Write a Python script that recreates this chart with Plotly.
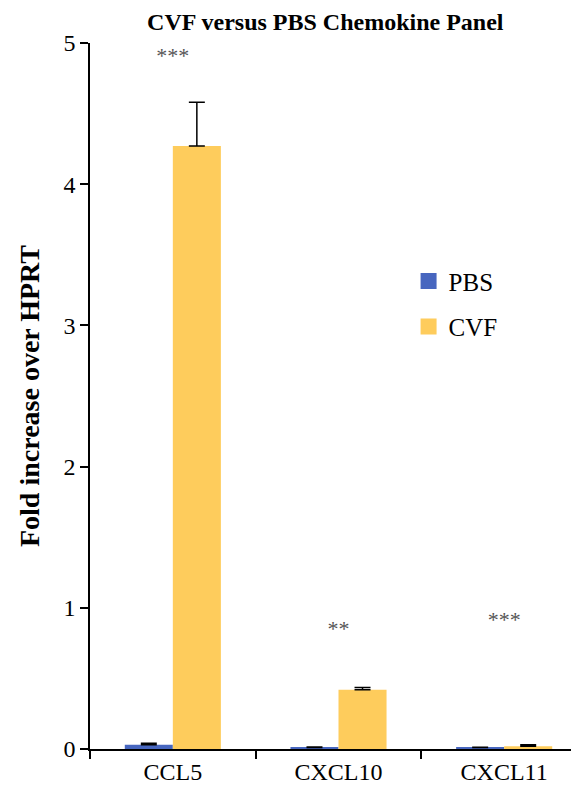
import plotly.graph_objects as go

categories = ["CCL5", "CXCL10", "CXCL11"]
pbs_values = [0.03, 0.01, 0.01]
pbs_errors = [0.01, 0.005, 0.003]
cvf_values = [4.27, 0.42, 0.02]
cvf_errors = [0.31, 0.015, 0.01]
star_labels = ["***", "**", "***"]
star_heights = [4.9, 0.84, 0.9]

FONT = "Liberation Serif, Times New Roman, serif"
PBS_COLOR = "#4766BF"
CVF_COLOR = "#FECC5C"

fig = go.Figure()
fig.add_trace(go.Bar(
    x=categories, y=pbs_values, name="PBS", showlegend=False,
    marker=dict(color=PBS_COLOR, line=dict(width=0)),
    error_y=dict(type="data", array=pbs_errors, arrayminus=[0]*3, symmetric=False,
                 color="black", thickness=1.5, width=8),
))
fig.add_trace(go.Bar(
    x=categories, y=cvf_values, name="CVF", showlegend=False,
    marker=dict(color=CVF_COLOR, line=dict(width=0)),
    error_y=dict(type="data", array=cvf_errors, arrayminus=[0]*3, symmetric=False,
                 color="black", thickness=1.5, width=8),
))
# legend entries with square swatches
for nm, col, grp in [("PBS", PBS_COLOR, "a"), ("CVF", CVF_COLOR, "b")]:
    fig.add_trace(go.Scatter(
        x=[None], y=[None], mode="markers", name=nm, legendgroup=grp,
        marker=dict(symbol="square", size=17, color=col, line=dict(width=0)),
    ))
fig.add_trace(go.Scatter(
    x=categories, y=star_heights, text=star_labels, mode="text",
    textfont=dict(family=FONT, size=22, color="#555555"),
    showlegend=False, hoverinfo="skip",
))

fig.update_layout(
    width=579, height=785,
    margin=dict(l=82, r=0, t=35, b=44),
    paper_bgcolor="white", plot_bgcolor="white",
    barmode="group", bargap=0.42, bargroupgap=0,
    title=dict(text="<b>CVF versus PBS Chemokine Panel</b>", x=0.548, xanchor="center",
               y=0.993, yanchor="top",
               font=dict(family=FONT, size=24, color="black")),
    font=dict(family=FONT, color="black"),
    legend=dict(x=0.641, y=0.695, xanchor="left", yanchor="top",
                font=dict(family=FONT, size=25, color="black"),
                tracegroupgap=10, bgcolor="rgba(0,0,0,0)"),
    showlegend=True,
)
fig.update_xaxes(
    range=[-0.5, 2.5], showline=True, linecolor="black", linewidth=1.5,
    ticks="outside", tickson="boundaries", ticklen=8, tickcolor="black", tickwidth=1.5,
    tickfont=dict(family=FONT, size=24, color="black"), showgrid=False, zeroline=False,
)
fig.update_yaxes(
    range=[0, 5], dtick=1, showline=True, linecolor="black", linewidth=1.5,
    ticks="outside", ticklen=8, tickcolor="black", tickwidth=1.5,
    tickfont=dict(family=FONT, size=24, color="black"), showgrid=False, zeroline=False,
    title=dict(text="<b>Fold increase over HPRT</b>", font=dict(family=FONT, size=28, color="black"),
               standoff=16),
)

fig.write_html("out.html")
